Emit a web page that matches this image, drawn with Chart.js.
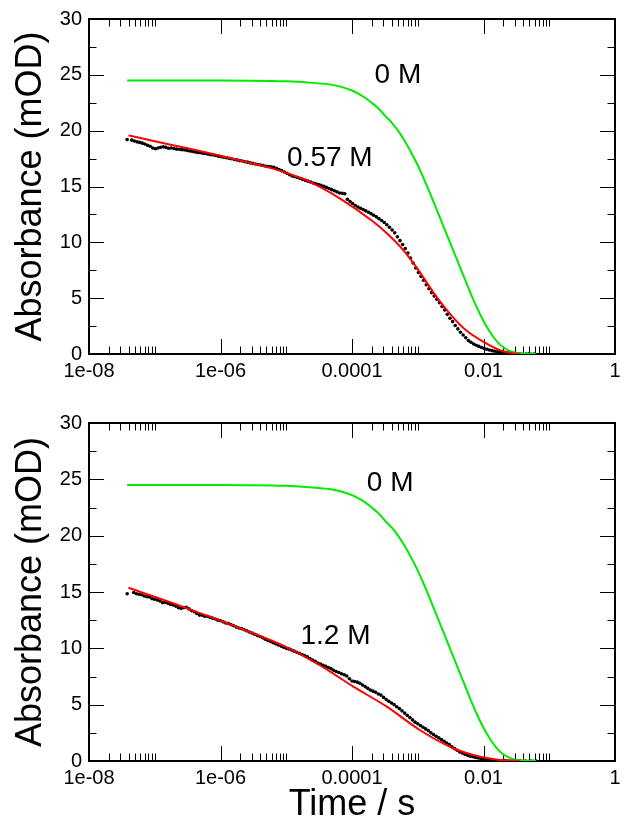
<!DOCTYPE html>
<html>
<head>
<meta charset="utf-8">
<script src="https://cdn.jsdelivr.net/npm/chart.js@4.4.0/dist/chart.umd.min.js"></script>
<style>
  html, body { margin: 0; padding: 0; background: #fff; }
  #wrap { position: relative; width: 635px; height: 829px; }
  #topChart { position: absolute; left: 0; top: 0; }
  #bottomChart { position: absolute; left: 0; top: 400px; }
</style>
</head>
<body>
<div id="wrap">
  <canvas id="topChart" width="635" height="400"></canvas>
  <canvas id="bottomChart" width="635" height="429"></canvas>
</div>
<script>
// ========================================
// Data (time stored as log10 of seconds, absorbance in mOD)
// ========================================
const xTickValues = [1e-8, 1e-6, 1e-4, 1e-2, 1];
const xTickLabels = ['1e-08', '1e-06', '0.0001', '0.01', '1'];
const yTickValues = [0, 5, 10, 15, 20, 25, 30];
const yMinorValues = [2.5, 7.5, 12.5, 17.5, 22.5, 27.5];

// 0 M reference trace (same in both panels)
const refLogT = [-7.42, -6.0, -5.0, -4.6, -4.3, -4.15, -4.0, -3.9, -3.8, -3.7, -3.6, -3.5, -3.4, -3.3,
  -3.2, -3.1, -3.0, -2.9, -2.8, -2.7, -2.6, -2.5, -2.4, -2.3, -2.2, -2.1, -2.0, -1.9, -1.8, -1.7,
  -1.6, -1.5, -1.4, -1.3, -1.2];
const refAbs = [24.5, 24.5, 24.42, 24.28, 24.1, 23.9, 23.6, 23.3, 22.95, 22.5, 22.0, 21.35, 20.75, 20.0,
  19.1, 18.05, 16.9, 15.6, 14.2, 12.75, 11.3, 9.85, 8.4, 6.95, 5.5, 4.15, 2.95, 1.95, 1.15, 0.6,
  0.28, 0.12, 0.05, 0.02, 0.01];

// 0.57 M fit (top panel)
const fitTopLogT = [-7.40, -7.0, -6.5, -6.0, -5.7, -5.45, -5.2, -4.95, -4.69, -4.18, -3.68, -3.45, -3.22, -3.0,
  -2.76, -2.51, -2.26, -2.0, -1.75, -1.55, -1.45];
const fitTopAbs = [19.58, 19.05, 18.42, 17.75, 17.32, 17.0, 16.6, 16.12, 15.55, 13.92, 11.86, 10.7, 9.3, 7.6,
  5.5, 3.6, 2.1, 1.09, 0.35, 0.06, 0.02];

// 0.57 M measured points (top panel)
const dotsTopLogT = [-7.42, -7.35, -7.31, -7.27, -7.23, -7.19, -7.15, -7.11, -7.07, -7.03, -6.99, -6.95,
  -6.91, -6.87, -6.83, -6.79, -6.75, -6.71, -6.67, -6.63, -6.59, -6.55, -6.51, -6.47, -6.43, -6.39,
  -6.35, -6.31, -6.27, -6.23, -6.19, -6.15, -6.11, -6.07, -6.03, -5.99, -5.95, -5.91, -5.87, -5.83,
  -5.79, -5.75, -5.71, -5.67, -5.63, -5.59, -5.55, -5.51, -5.47, -5.43, -5.39, -5.35, -5.31, -5.27,
  -5.23, -5.19, -5.15, -5.11, -5.07, -5.03, -4.99, -4.95, -4.91, -4.87, -4.83, -4.79, -4.75, -4.71,
  -4.67, -4.63, -4.59, -4.55, -4.51, -4.47, -4.43, -4.39, -4.35, -4.31, -4.27, -4.23, -4.19, -4.15,
  -4.11, -4.07, -4.03, -3.99, -3.95, -3.91, -3.87, -3.83, -3.79, -3.75, -3.71, -3.67, -3.63, -3.59,
  -3.55, -3.51, -3.47, -3.43, -3.39, -3.35, -3.31, -3.27, -3.23, -3.19, -3.15, -3.11, -3.07, -3.03,
  -2.99, -2.95, -2.91, -2.87, -2.83, -2.79, -2.75, -2.71, -2.67, -2.63, -2.59, -2.55, -2.51, -2.47,
  -2.43, -2.39, -2.35, -2.31, -2.27, -2.23, -2.19, -2.15, -2.11, -2.07, -2.03, -1.99, -1.95, -1.91,
  -1.87, -1.83, -1.79, -1.75, -1.71, -1.67, -1.63, -1.59, -1.55, -1.51, -1.47, -1.43, -1.39, -1.35,
  -1.31, -1.27, -1.23];
const dotsTopAbs = [19.2, 19.15, 19.08, 19.0, 18.95, 18.88, 18.8, 18.7, 18.6, 18.45, 18.38, 18.45,
  18.52, 18.55, 18.5, 18.42, 18.45, 18.4, 18.35, 18.33, 18.3, 18.28, 18.22, 18.18, 18.15, 18.1,
  18.05, 18.02, 17.98, 17.95, 17.9, 17.85, 17.82, 17.77, 17.72, 17.66, 17.62, 17.58, 17.52, 17.48,
  17.42, 17.38, 17.32, 17.28, 17.22, 17.18, 17.12, 17.07, 17.02, 16.97, 16.92, 16.88, 16.82, 16.78,
  16.76, 16.72, 16.62, 16.52, 16.42, 16.3, 16.18, 16.05, 15.95, 15.87, 15.8, 15.72, 15.64, 15.55,
  15.48, 15.4, 15.32, 15.25, 15.18, 15.1, 15.02, 14.92, 14.82, 14.72, 14.62, 14.52, 14.42, 14.4,
  14.35, 13.85, 13.65, 13.48, 13.3, 13.16, 13.05, 12.93, 12.82, 12.7, 12.57, 12.42, 12.28, 12.12,
  11.95, 11.78, 11.58, 11.35, 11.1, 10.85, 10.5, 10.15, 9.8, 9.45, 9.05, 8.6, 8.15, 7.7,
  7.3, 6.95, 6.6, 6.2, 5.85, 5.5, 5.2, 4.9, 4.6, 4.25, 3.95, 3.55, 3.2, 2.9,
  2.55, 2.25, 1.95, 1.7, 1.45, 1.2, 1.05, 0.9, 0.78, 0.68, 0.58, 0.5, 0.42, 0.36,
  0.3, 0.25, 0.2, 0.16, 0.13, 0.1, 0.08, 0.06, 0.05, 0.04, 0.02, 0.0, -0.02, 0.0,
  0.01, -0.03, 0.0];

// 1.2 M fit (bottom panel)
const fitBottomLogT = [-7.40, -6.51, -5.50, -4.99, -4.49, -3.98, -3.47, -2.97, -2.46, -2.05, -1.75, -1.55, -1.45];
const fitBottomAbs = [15.38, 13.55, 11.33, 10.09, 8.5, 6.6, 4.82, 2.75, 1.13, 0.38, 0.09, 0.03, 0.01];

// 1.2 M measured points (bottom panel)
const dotsBottomLogT = [-7.42, -7.32, -7.28, -7.24, -7.20, -7.16, -7.12, -7.08, -7.04, -7.00, -6.96, -6.92,
  -6.88, -6.84, -6.80, -6.76, -6.72, -6.68, -6.64, -6.60, -6.56, -6.52, -6.48, -6.44, -6.40, -6.36,
  -6.32, -6.28, -6.24, -6.20, -6.16, -6.12, -6.08, -6.04, -6.00, -5.96, -5.92, -5.88, -5.84, -5.80,
  -5.76, -5.72, -5.68, -5.64, -5.60, -5.56, -5.52, -5.48, -5.44, -5.40, -5.36, -5.32, -5.28, -5.24,
  -5.20, -5.16, -5.12, -5.08, -5.04, -5.00, -4.96, -4.92, -4.88, -4.84, -4.80, -4.76, -4.72, -4.68,
  -4.64, -4.60, -4.56, -4.52, -4.48, -4.44, -4.40, -4.36, -4.32, -4.28, -4.24, -4.20, -4.16, -4.12,
  -4.08, -4.04, -4.00, -3.96, -3.92, -3.88, -3.84, -3.80, -3.76, -3.72, -3.68, -3.64, -3.60, -3.56,
  -3.52, -3.48, -3.44, -3.40, -3.36, -3.32, -3.28, -3.24, -3.20, -3.16, -3.12, -3.08, -3.04, -3.00,
  -2.96, -2.92, -2.88, -2.84, -2.80, -2.76, -2.72, -2.68, -2.64, -2.60, -2.56, -2.52, -2.48, -2.44,
  -2.40, -2.36, -2.32, -2.28, -2.24, -2.20, -2.16, -2.12, -2.08, -2.04, -2.00, -1.96, -1.92, -1.88,
  -1.84, -1.80, -1.76, -1.72, -1.68, -1.64, -1.60, -1.56, -1.52, -1.48, -1.44, -1.40, -1.36, -1.32,
  -1.28, -1.24, -1.20];
const dotsBottomAbs = [14.85, 14.95, 14.85, 14.8, 14.75, 14.65, 14.58, 14.55, 14.4, 14.35, 14.3, 14.2,
  14.05, 14.1, 14.0, 13.9, 13.85, 13.75, 13.6, 13.55, 13.6, 13.65, 13.5, 13.35, 13.25, 13.1,
  12.95, 12.95, 12.85, 12.85, 12.75, 12.68, 12.6, 12.5, 12.45, 12.35, 12.25, 12.2, 12.1, 12.0,
  11.9, 11.8, 11.75, 11.65, 11.55, 11.45, 11.35, 11.25, 11.15, 11.05, 10.95, 10.8, 10.7, 10.6,
  10.5, 10.4, 10.3, 10.2, 10.1, 10.0, 9.95, 9.85, 9.75, 9.65, 9.55, 9.45, 9.35, 9.25,
  9.1, 8.95, 8.85, 8.7, 8.6, 8.5, 8.4, 8.3, 8.2, 8.05, 7.95, 7.85, 7.75, 7.65,
  7.55, 7.3, 7.1, 7.05, 7.0, 6.9, 6.75, 6.6, 6.45, 6.3, 6.2, 6.1, 5.95, 5.85,
  5.65, 5.45, 5.3, 5.15, 5.0, 4.82, 4.65, 4.45, 4.25, 4.05, 3.85, 3.65, 3.45, 3.3,
  3.15, 3.0, 2.85, 2.7, 2.5, 2.35, 2.2, 2.05, 1.9, 1.75, 1.6, 1.45, 1.25, 1.1,
  0.95, 0.8, 0.7, 0.6, 0.5, 0.42, 0.38, 0.32, 0.27, 0.22, 0.15, 0.1, 0.06, 0.03,
  0.0, 0.02, -0.02, 0.0, 0.03, 0.0, -0.03, 0.0, 0.02, -0.02, 0.0, -0.04, 0.0, -0.05,
  0.0, -0.02, 0.0];

// ========================================
// Styles
// ========================================
const RED = 'rgb(255,0,0)';
const GREEN = 'rgb(0,235,0)';
const FONT = '"Liberation Sans", Arial, Helvetica, sans-serif';

Chart.defaults.font.family = FONT;
Chart.defaults.color = '#000';

function toPoints(logT, abs) {
  return logT.map((v, i) => ({ x: Math.pow(10, v), y: abs[i] }));
}

// minor ticks: 2..10 x 10^n in every other decade (like the original plot)
const xMinorValues = [];
[-8, -6, -4, -2].forEach(d => {
  for (let k = 2; k <= 10; k++) xMinorValues.push(k * Math.pow(10, d));
});

// ========================================
// Plugins: frame with inward ticks, text notes
// ========================================
const frameTicks = {
  id: 'frameTicks',
  beforeDatasetsDraw(chart) {
    const { ctx, chartArea: a, scales: { x, y } } = chart;
    ctx.save();
    ctx.strokeStyle = '#000';
    ctx.lineWidth = 1;
    ctx.beginPath();
    const xTick = (v, len) => {
      const px = Math.round(x.getPixelForValue(v)) + 0.5;
      ctx.moveTo(px, a.bottom); ctx.lineTo(px, a.bottom - len);
      ctx.moveTo(px, a.top); ctx.lineTo(px, a.top + len);
    };
    const yTick = (v, len) => {
      const py = Math.round(y.getPixelForValue(v)) + 0.5;
      ctx.moveTo(a.left, py); ctx.lineTo(a.left + len, py);
      ctx.moveTo(a.right, py); ctx.lineTo(a.right - len, py);
    };
    xTickValues.forEach(v => xTick(v, 15));
    xMinorValues.forEach(v => xTick(v, 7.5));
    yTickValues.forEach(v => yTick(v, 15));
    yMinorValues.forEach(v => yTick(v, 7.5));
    ctx.stroke();
    ctx.lineWidth = 2;
    ctx.strokeRect(a.left, a.top, a.right - a.left, a.bottom - a.top);
    ctx.restore();
  }
};

const notes = {
  id: 'notes',
  afterDatasetsDraw(chart, args, opts) {
    const { ctx, scales: { x, y } } = chart;
    ctx.save();
    ctx.font = '28px ' + FONT;
    ctx.fillStyle = '#000';
    ctx.textAlign = 'center';
    ctx.textBaseline = 'middle';
    (opts.items || []).forEach(n => {
      ctx.fillText(n.text, x.getPixelForValue(n.x), y.getPixelForValue(n.y));
    });
    ctx.restore();
  }
};

// ========================================
// Chart builder
// ========================================
function buildChart(id, cfg) {
  return new Chart(document.getElementById(id), {
    type: 'scatter',
    data: {
      datasets: [
        { data: toPoints(cfg.fitLogT, cfg.fitAbs), showLine: true, borderColor: RED, borderWidth: 2,
          pointRadius: 0, cubicInterpolationMode: 'monotone', order: 0 },
        { data: toPoints(refLogT, refAbs), showLine: true, borderColor: GREEN, borderWidth: 2,
          pointRadius: 0, cubicInterpolationMode: 'monotone', order: 1 },
        { data: toPoints(cfg.dotsLogT, cfg.dotsAbs), showLine: false, pointRadius: 1.8,
          backgroundColor: '#000', borderWidth: 0, order: 2 }
      ]
    },
    plugins: [frameTicks, notes],
    options: {
      responsive: false,
      animation: false,
      events: [],
      layout: { padding: { left: 0, right: 20, top: cfg.padTop, bottom: 0 } },
      plugins: {
        legend: { display: false },
        tooltip: { enabled: false },
        notes: { items: cfg.notes }
      },
      scales: {
        x: {
          type: 'logarithmic',
          min: 1e-8,
          max: 1,
          grid: { display: false, drawTicks: false },
          border: { display: false },
          afterBuildTicks: s => { s.ticks = xTickValues.map(v => ({ value: v })); },
          afterFit: s => { s.height = cfg.xHeight; },
          ticks: {
            autoSkip: false, maxRotation: 0, minRotation: 0, padding: 5,
            font: { size: 20 },
            callback: (v, i) => xTickLabels[i]
          },
          title: {
            display: !!cfg.xTitle,
            text: cfg.xTitle || '',
            font: { size: 36 },
            padding: { top: 0, bottom: 2 }
          }
        },
        y: {
          min: 0,
          max: 30,
          grid: { display: false, drawTicks: false },
          border: { display: false },
          afterBuildTicks: s => { s.ticks = yTickValues.map(v => ({ value: v })); },
          afterFit: s => { s.width = 89; },
          ticks: { padding: 7, font: { size: 20 } },
          title: {
            display: true,
            text: 'Absorbance (mOD)',
            font: { size: 36 },
            padding: { top: 9, bottom: 0 }
          }
        }
      }
    }
  });
}

buildChart('topChart', {
  padTop: 15,
  xHeight: 46,
  fitLogT: fitTopLogT, fitAbs: fitTopAbs,
  dotsLogT: dotsTopLogT, dotsAbs: dotsTopAbs,
  notes: [
    { text: '0 M', x: 5.0e-4, y: 24.96 },
    { text: '0.57 M', x: 4.6e-5, y: 17.5 }
  ]
});

buildChart('bottomChart', {
  padTop: 23,
  xHeight: 68,
  xTitle: 'Time / s',
  fitLogT: fitBottomLogT, fitAbs: fitBottomAbs,
  dotsLogT: dotsBottomLogT, dotsAbs: dotsBottomAbs,
  notes: [
    { text: '0 M', x: 3.8e-4, y: 24.67 },
    { text: '1.2 M', x: 5.6e-5, y: 11.03 }
  ]
});
</script>
</body>
</html>
